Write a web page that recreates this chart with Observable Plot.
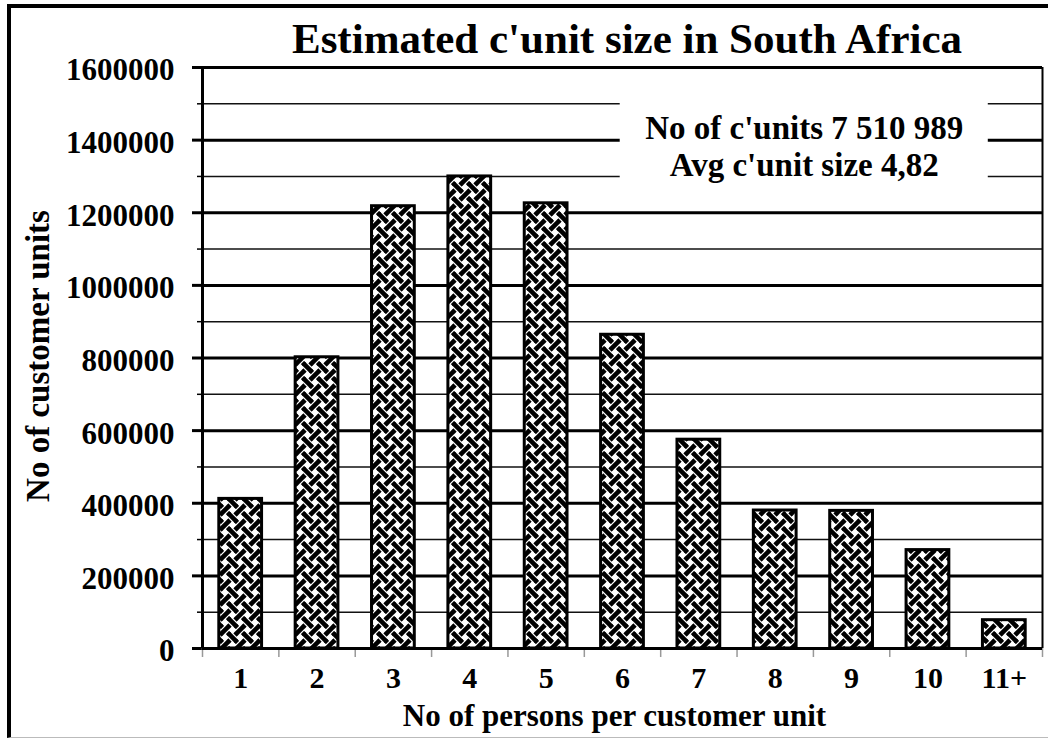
<!DOCTYPE html>
<html><head><meta charset="utf-8">
<script src="https://cdn.jsdelivr.net/npm/d3@7"></script>
<script src="https://cdn.jsdelivr.net/npm/@observablehq/plot@0.6"></script>
<style>
body{margin:0;background:#fff;width:1048px;height:740px;overflow:hidden;position:relative;font-family:"Liberation Serif","Times New Roman",serif;font-weight:bold;color:#000}
#title{position:relative;height:60px}
#title span{position:absolute;left:207px;width:840px;top:17px;text-align:center;font-size:43px;line-height:43px;white-space:nowrap}
#border{position:absolute;left:7px;top:4px;width:1048px;height:729px;border-left:4px solid #000;border-top:4px solid #000;border-bottom:1px solid #bbb;pointer-events:none}
</style></head><body>
<div id="title"><span>Estimated c'unit size in South Africa</span></div>
<div id="chart"></div>
<div id="border"></div>
<script>
// ---- data ----
const categories = ["1","2","3","4","5","6","7","8","9","10","11+"];
const units = [412000, 802000, 1218000, 1300000, 1226000, 864000, 575000, 380000, 379000, 271000, 78000];
const yMajorTicks = [0, 200000, 400000, 600000, 800000, 1000000, 1200000, 1400000, 1600000];
const yMinorTicks = [100000, 300000, 500000, 700000, 900000, 1100000, 1300000, 1500000];
const annotationLines = ["No of c'units 7 510 989", "Avg c'unit size 4,82"];
const xTitle = "No of persons per customer unit";
const yTitle = "No of customer units";

// ---- derived tables ----
const data = categories.map((c, i) => ({c, i, v: units[i]}));
const barHalf = 0.28;                 // half bar width in category units
const boundaries = d3.range(categories.length + 1);
const centers = categories.map((c, i) => i + 0.5);
const annBox = {x1: 5.47, x2: 10.29, y1: 1255000, y2: 1530000};
const annText = [
  {t: annotationLines[0], x: 7.88, y: 1432000},
  {t: annotationLines[1], x: 7.88, y: 1330000}
];

const plot = Plot.plot({
  width: 1048, height: 680,
  marginLeft: 202, marginRight: 6, marginTop: 7, marginBottom: 92,
  style: {fontFamily: "'Liberation Serif', 'Times New Roman', serif", fontWeight: "bold", fontSize: "30px", color: "black", overflow: "visible", background: "transparent"},
  x: {type: "linear", domain: [0, categories.length]},
  y: {domain: [0, 1600000]},
  marks: [
    Plot.ruleY(yMinorTicks, {stroke: "#111", strokeWidth: 1.6}),
    Plot.ruleY(yMajorTicks, {stroke: "black", strokeWidth: 3}),
    Plot.rect([annBox], {x1: "x1", x2: "x2", y1: "y1", y2: "y2", fill: "white"}),
    Plot.rectY(data, {x1: d => d.i + 0.5 - barHalf, x2: d => d.i + 0.5 + barHalf, y: "v", fill: "url(#weave)", stroke: "black", strokeWidth: 3}),
    Plot.axisY(yMajorTicks, {tickSize: 10, strokeWidth: 3, tickFormat: () => "", label: null}),
    Plot.axisY(yMinorTicks, {tickSize: 5, strokeWidth: 1.5, tickFormat: () => "", label: null}),
    Plot.axisY(yMajorTicks, {tickSize: 0, tickPadding: 28, dy: 3, fontSize: 31, tickFormat: d => String(d), label: null}),
    Plot.axisX(boundaries, {tickSize: 9, stroke: "#999", strokeWidth: 1.5, tickFormat: () => "", label: null}),
    Plot.axisX(centers, {tickSize: 0, tickPadding: 18, fontSize: 30, tickFormat: d => categories[Math.round(d - 0.5)], label: null}),
    Plot.ruleX([0], {stroke: "black", strokeWidth: 3}),
    Plot.ruleX([categories.length], {stroke: "black", strokeWidth: 2}),
    Plot.ruleY([0], {stroke: "black", strokeWidth: 3}),
    Plot.text(annText, {x: "x", y: "y", text: "t", fontSize: 33, fill: "black"}),
    Plot.text([xTitle], {text: d => d, frameAnchor: "bottom", lineAnchor: "middle", textAnchor: "middle", dx: -8, dy: 68, fontSize: 31, fill: "black"}),
    Plot.text([yTitle], {text: d => d, frameAnchor: "left", lineAnchor: "middle", textAnchor: "middle", rotate: -90, dx: -164, dy: -2, fontSize: 33, fill: "black"})
  ]
});

// weave pattern for the bars
const svg = d3.select(plot.tagName.toLowerCase() === "svg" ? plot : plot.querySelector("svg"));
const defs = svg.insert("defs", ":first-child");
const P = 15, h = P / 2, SW = 4.6;
const pat = defs.append("pattern").attr("id", "weave").attr("patternUnits", "userSpaceOnUse")
  .attr("width", P).attr("height", P);
pat.append("rect").attr("width", P).attr("height", P).attr("fill", "white");
pat.append("path").attr("d", `M${P},0L0,${P}M-3,3L3,-3M${P-3},${P+3}L${P+3},${P-3}`).attr("stroke", "black").attr("stroke-width", SW);
pat.append("path").attr("d", `M0,0L${P},${P}M${P-3},-3L${P+3},3M-3,${P-3}L3,${P+3}`).attr("stroke", "black").attr("stroke-width", SW);
// center crossing: "\" over
pat.append("path").attr("d", `M${h-3.2},${h-3.2}L${h+3.2},${h+3.2}`).attr("stroke", "white").attr("stroke-width", SW + 2.4);
pat.append("path").attr("d", `M${h-3.9},${h-3.9}L${h+3.9},${h+3.9}`).attr("stroke", "black").attr("stroke-width", SW);
// corner crossings: "/" over
const cornersOver = (d) => [[0,0],[P,0],[0,P],[P,P]].map(([cx,cy]) => `M${cx+d},${cy-d}L${cx-d},${cy+d}`).join("");
pat.append("path").attr("d", cornersOver(3.2)).attr("stroke", "white").attr("stroke-width", SW + 2.4);
pat.append("path").attr("d", cornersOver(3.9)).attr("stroke", "black").attr("stroke-width", SW);

document.getElementById("chart").appendChild(plot);
</script>
</body></html>
